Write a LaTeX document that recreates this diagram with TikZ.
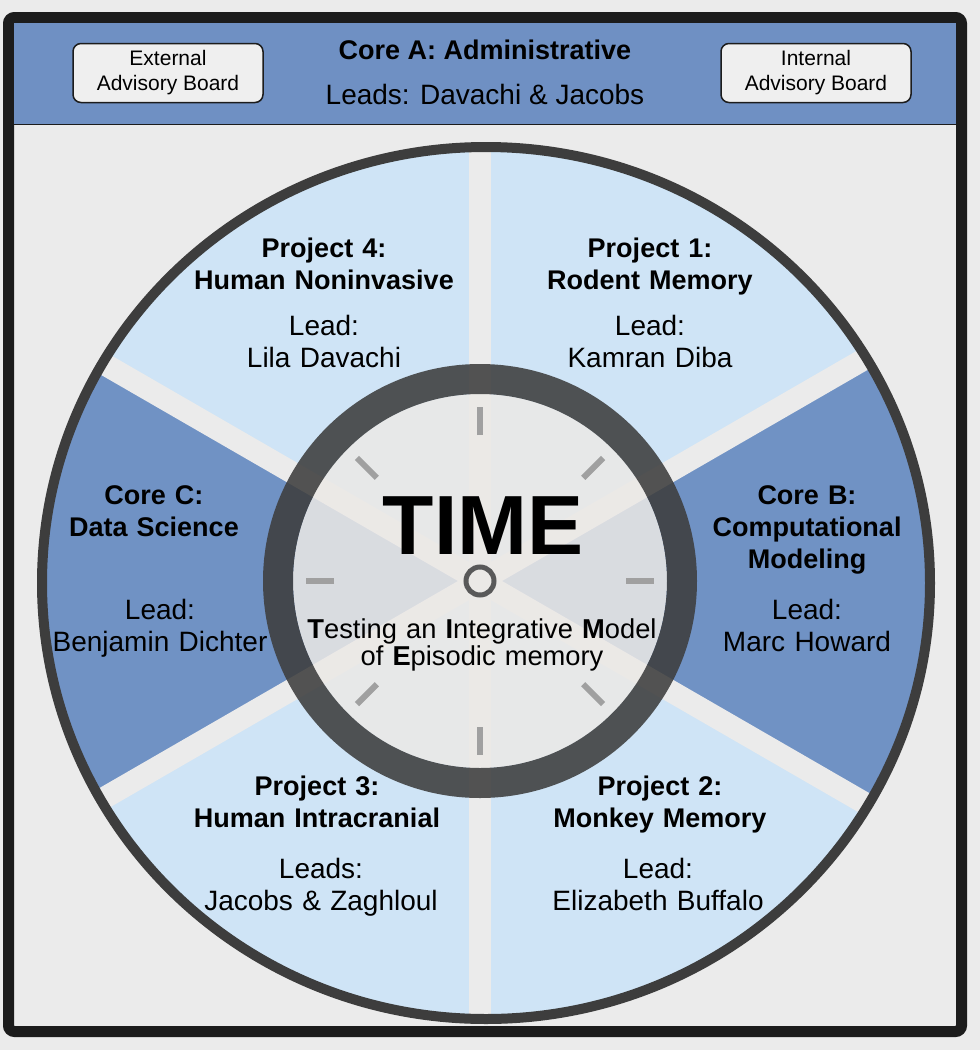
\documentclass[tikz,border=0pt]{standalone}
\usepackage{fontspec}
\setmainfont{Liberation Sans}
\usetikzlibrary{positioning}

\definecolor{bggray}{HTML}{EBEBEB}
\definecolor{boardgray}{HTML}{EFEFEF}
\definecolor{lightblue}{HTML}{CFE4F6}
\definecolor{darkblue}{HTML}{7092C4}
\definecolor{bannerblue}{HTML}{6F90C3}
\definecolor{rimgray}{HTML}{3D3D3D}
\definecolor{framegray}{HTML}{1C1C1C}
\definecolor{tickgray}{HTML}{A0A0A0}
\definecolor{facegray}{HTML}{ECE9E6}

\tikzstyle{heading} = [text width=320pt, align=center, anchor=base, font=\bfseries\fontsize{27}{32}\selectfont]
\tikzstyle{leadtext} = [text width=320pt, align=center, anchor=base, font=\fontsize{28}{32}\selectfont]
\tikzstyle{boardbox} = [rectangle, rounded corners=8pt, draw=framegray, line width=1.5pt, fill=boardgray, minimum width=190pt, minimum height=59pt, align=center, inner sep=0pt, font=\fontsize{21}{25}\selectfont]
\tikzstyle{gapline} = [draw=bggray, line width=22pt]
\tikzstyle{clocktick} = [draw=tickgray, line width=6pt]

\begin{document}
\begin{tikzpicture}[x=1pt, y=-1pt]
   \useasboundingbox[fill=bggray] (0,0) rectangle (980,1050);
   % frame and banner
   \draw[framegray, line width=11pt, rounded corners=6pt] (8.5,17.5) rectangle (961.5,1031.5);
   \fill[bannerblue] (14,23) rectangle (956,124);
   \draw[framegray, line width=1.5pt] (14,124.5) -- (956,124.5);
   \node (coreA) [anchor=base, font=\bfseries\fontsize{27}{32}\selectfont] at (485,59) {Core A: Administrative};
   \node (coreAlead) [anchor=base, font=\fontsize{28}{32}\selectfont] at (485,104) {Leads: Davachi \& Jacobs};
   \node (extboard) [boardbox] at (168,73) {External\\Advisory Board};
   \node (intboard) [boardbox] at (816,73) {Internal\\Advisory Board};

   % wheel
   \coordinate (C) at (480,581);
   \begin{scope}
      \clip (486,583) ellipse [x radius=444, y radius=436];
      \fill[lightblue] (486,583) ellipse [x radius=444, y radius=436];
      \fill[darkblue] (C) -- ++(-30:600) arc [start angle=-30, end angle=30, radius=600] -- cycle;
      \fill[darkblue] (C) -- ++(150:600) arc [start angle=150, end angle=210, radius=600] -- cycle;
      \foreach \a in {30,90,...,330}
         \draw[gapline] (C) -- ++(\a:480);
   \end{scope}
   \draw[rimgray, line width=10pt] (486,583) ellipse [x radius=444, y radius=436];

   \node (p1head) [heading] at (650,257) {Project 1:\\Rodent Memory};
   \node (p1lead) [leadtext] at (650,335) {Lead:\\Kamran Diba};
   \node (p2head) [heading] at (660,795) {Project 2:\\Monkey Memory};
   \node (p2lead) [leadtext] at (658,878) {Lead:\\Elizabeth Buffalo};
   \node (p3head) [heading] at (317,795) {Project 3:\\Human Intracranial};
   \node (p3lead) [leadtext] at (321,878) {Leads:\\Jacobs \& Zaghloul};
   \node (p4head) [heading] at (324,257) {Project 4:\\Human Noninvasive};
   \node (p4lead) [leadtext] at (324,335) {Lead:\\Lila Davachi};
   \node (cbhead) [heading] at (807,504) {Core B:\\Computational\\Modeling};
   \node (cblead) [leadtext] at (807,619) {Lead:\\Marc Howard};
   \node (cchead) [heading] at (154,504) {Core C:\\Data Science};
   \node (cclead) [leadtext] at (160,619) {Lead:\\Benjamin Dichter};

   % clock
   \fill[facegray, opacity=0.85] (C) circle [radius=187];
   \draw[rimgray, opacity=0.88, line width=30pt] (C) circle [radius=202];
   \foreach \a in {0,45,...,315}
      \draw[clocktick] (C) ++(\a:146) -- ++(\a:28);
   \draw[black!65, line width=5pt] (C) circle [radius=14];
   \node (time) [anchor=base, font=\bfseries\fontsize{84}{84}\selectfont] at (483,554) {TIME};
   \node (timesub) [anchor=base, text width=360pt, align=center, font=\fontsize{27.3}{27}\selectfont] at (482,638)
      {\textbf{T}esting an \textbf{I}ntegrative \textbf{M}odel\\of \textbf{E}pisodic memory};
\end{tikzpicture}
\end{document}
